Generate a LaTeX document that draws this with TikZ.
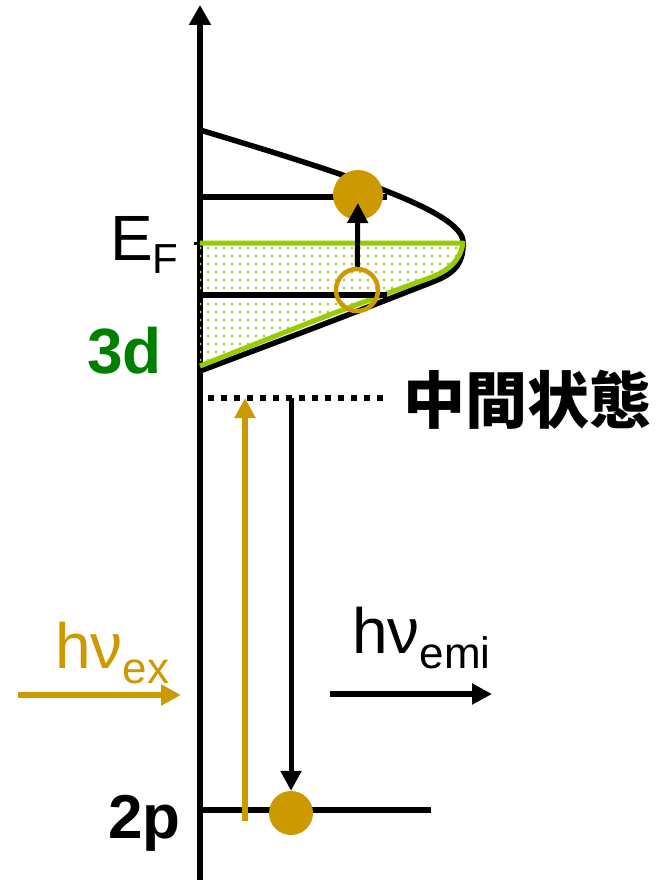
\documentclass[tikz,border=0pt]{standalone}
\usepackage{fontspec}
\setmainfont{Liberation Sans}
\newfontfamily\cjk{Noto Sans CJK JP}
\usepackage{xcolor}
\usepackage{tikz}
\usetikzlibrary{arrows.meta, positioning, patterns.meta}
\definecolor{goldline}{HTML}{CC9900}
\definecolor{limeline}{HTML}{99CC00}
\definecolor{limedots}{HTML}{A8D64A}
\definecolor{darkgreen}{HTML}{008000}

\begin{document}
\begin{tikzpicture}[
    x=1pt, y=-1pt,
    axis/.style={line width=6pt, -{Triangle[length=20pt, width=21pt]}},
    band/.style={line width=5.5pt},
    level/.style={line width=5.5pt},
    jump/.style={line width=5pt, -{Triangle[length=20pt, width=20pt]}},
    goldjump/.style={jump, draw=goldline, line width=6pt},
    electron/.style={circle, fill=goldline, inner sep=0pt, minimum size=#1},
    hole/.style={circle, draw=goldline, line width=4.5pt, inner sep=0pt, minimum size=42pt},
    biglabel/.style={inner sep=0pt, font=\fontsize{64}{64}\selectfont},
]
\useasboundingbox (0,0) rectangle (669,880);
% Energy axis
\coordinate (origin) at (200,880);
\coordinate (top) at (200,5);
\draw[axis] (origin) -- (top);
% 3d band: occupied part (dotted)
\fill[pattern={Dots[distance=8pt, radius=1.6pt]}, pattern color=limedots]
    (200,243) -- (463,243) .. controls (460,261) and (449,270) .. (432,277)
    .. controls (328,315) .. (200,366) -- cycle;
% 3d band: outline
\draw[band] (200,130) .. controls (350,175) and (463,212) .. (463,242)
    .. controls (464,265) and (452,274) .. (435,281)
    .. controls (330,322) .. (200,371);
\draw[limeline, line width=5pt, line join=round]
    (200,243) -- (463,243) .. controls (460,261) and (449,270) .. (432,277)
    .. controls (328,315) .. (200,366);
% Levels inside the band
\foreach \y in {197,295} {
    \draw[level] (200,\y) -- (387,\y);
}
\draw[line width=3pt] (194,243) -- (200,243);
% Intermediate state
\coordinate (midl) at (200,398);
\coordinate (midr) at (387,398);
\draw[line width=5.5pt, dash pattern=on 5.5pt off 7.5pt] ([xshift=8pt]midl) -- (midr);
\node[anchor=west, inner sep=0pt, font=\cjk\bfseries\fontsize{62}{62}\selectfont] (midlabel) at (403,400) {中間状態};
% 2p core level
\coordinate (corel) at (200,810);
\coordinate (corer) at (431,810);
\draw[level] (corel) -- (corer);
% Electrons and hole
\node[electron=50pt] (exc) at (358,195) {};
\node[hole] (hole) at (357,290) {};
\node[electron=44pt] (core) at (291,813) {};
\draw[jump, shorten >=8pt] (hole) -- (exc.center);
% Excitation and emission
\coordinate (exbot) at (245,821);
\coordinate (extop) at (245,398);
\draw[goldjump] (exbot) -- (extop);
\coordinate (emtop) at (291,398);
\draw[jump] (emtop) -- (core);
\coordinate (inl) at (18,695);
\coordinate (inr) at (181,695);
\draw[goldjump] (inl) -- (inr);
\coordinate (outl) at (330,694);
\coordinate (outr) at (492,694);
\draw[jump, line width=6pt] (outl) -- (outr);
% Labels
\node[biglabel, anchor=base west] (ef) at (110,260) {E\raisebox{-13pt}{\fontsize{42}{42}\selectfont F}};
\node[biglabel, anchor=base east, text=darkgreen, font=\bfseries\fontsize{64}{64}\selectfont] (lab3d) at (162,373) {3d};
\node[biglabel, anchor=base east, font=\bfseries\fontsize{62}{62}\selectfont] (lab2p) at (181,838) {2p};
\node[biglabel, anchor=base west, text=goldline] (exlabel) at (55,668) {hν\raisebox{-15pt}{\fontsize{44}{44}\selectfont ex}};
\node[biglabel, anchor=base west] (emilabel) at (352,653) {hν\raisebox{-15pt}{\fontsize{44}{44}\selectfont emi}};
\end{tikzpicture}
\end{document}
